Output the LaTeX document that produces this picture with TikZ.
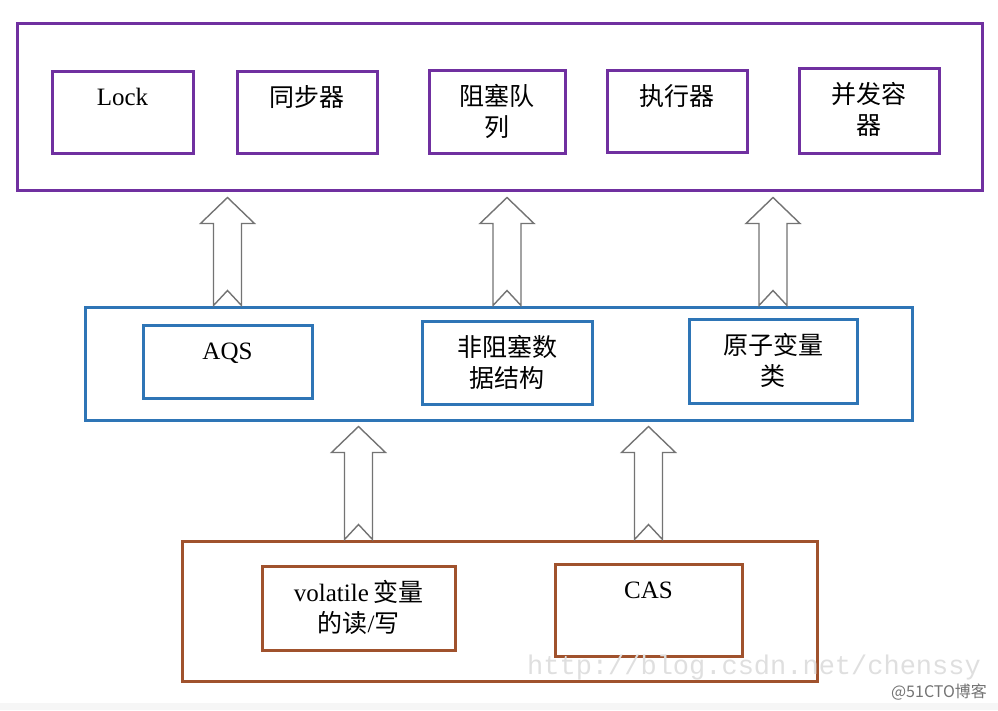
\documentclass[tikz,border=0pt]{standalone}
\usepackage{fontspec}
\setmainfont{Liberation Serif}
\newfontfamily\cjk{Noto Sans CJK SC}
\newfontfamily\wmfont{Liberation Mono}
\usetikzlibrary{positioning,calc}

\definecolor{boxpurple}{HTML}{7030A0}
\definecolor{boxblue}{HTML}{2E75B6}
\definecolor{boxbrown}{HTML}{A0522D}

\newcommand{\zh}[1]{{\cjk #1}}
\newcommand{\zhstrut}{\begingroup\cjk\vphantom{器}\endgroup}
% hollow arrow: from (x, bottom) up to tip
\newcommand{\fatarrow}[2]{%
  \draw[fatarr] let \p1=(#1), \p2=(#2) in
    (\x1-14pt,\y1) -- (\x1-14pt,\y2-26pt) -- (\x1-27pt,\y2-26pt) -- (\x1,\y2)
    -- (\x1+27pt,\y2-26pt) -- (\x1+14pt,\y2-26pt) -- (\x1+14pt,\y1)
    -- (\x1,\y1+15pt) -- cycle;}

\begin{document}
\begin{tikzpicture}[x=1pt,y=-1pt,
  pbox/.style={rectangle,draw=boxpurple,line width=3pt},
  bbox/.style={rectangle,draw=boxblue,line width=3pt},
  rbox/.style={rectangle,draw=boxbrown,line width=3pt},
  lbl/.style={anchor=north,inner sep=0pt,align=center,yshift=-15.5pt,
    font=\fontsize{25}{31}\selectfont,execute at begin node=\zhstrut},
  fatarr/.style={draw=gray!90!black,line width=1.4pt,fill=white,line join=miter}]
\useasboundingbox (0,0) rectangle (998,710);
\fill[gray!7] (0,703) rectangle (998,710);

% top layer
\node[pbox,minimum width=965pt,minimum height=167pt] (top) at (499.5,106.5) {};
\node[pbox,minimum width=141pt,minimum height=82pt] (lock) at (122.5,112) {};
\node[pbox,minimum width=140pt,minimum height=82pt] (sync) at (307,112) {};
\node[pbox,minimum width=136pt,minimum height=83pt] (queue) at (497,111.5) {};
\node[pbox,minimum width=140pt,minimum height=82pt] (exec) at (677,111) {};
\node[pbox,minimum width=140pt,minimum height=85pt] (cont) at (869,110.5) {};

\node[lbl] (lockt) at (lock.north) {Lock};
\node[lbl] (synct) at (sync.north) {\zh{同步器}};
\node[lbl] (queuet) at (queue.north) {\zh{阻塞队}\\\zh{列}};
\node[lbl] (exect) at (exec.north) {\zh{执行器}};
\node[lbl] (contt) at (cont.north) {\zh{并发容}\\\zh{器}};

% middle layer
\node[bbox,minimum width=827pt,minimum height=113pt] (mid) at (498.5,363.5) {};
\node[bbox,minimum width=169pt,minimum height=73pt] (aqs) at (227.5,361.5) {};
\node[bbox,minimum width=170pt,minimum height=83pt] (nbds) at (507,362.5) {};
\node[bbox,minimum width=168pt,minimum height=84pt] (atom) at (773,361) {};

\node[lbl] (aqst) at (aqs.north) {AQS};
\node[lbl] (nbdst) at (nbds.north) {\zh{非阻塞数}\\\zh{据结构}};
\node[lbl] (atomt) at (atom.north) {\zh{原子变量}\\\zh{类}};

% bottom layer
\node[rbox,minimum width=635pt,minimum height=140pt] (bot) at (499.5,611) {};
\node[rbox,minimum width=193pt,minimum height=84pt] (vol) at (358.5,608) {};
\node[rbox,minimum width=187pt,minimum height=92pt] (cas) at (648.5,610) {};

\node[lbl] (volt) at (vol.north) {volatile\,\zh{变量}\\\zh{的读}/\zh{写}};
\node[lbl] (cast) at (cas.north) {CAS};

% arrows
\fatarrow{aqs |- mid.north}{$(aqs |- top.south)+(0,6)$}
\fatarrow{nbds |- mid.north}{$(nbds |- top.south)+(0,6)$}
\fatarrow{atom |- mid.north}{$(atom |- top.south)+(0,6)$}
\fatarrow{vol |- bot.north}{$(vol |- mid.south)+(0,5)$}
\fatarrow{cas |- bot.north}{$(cas |- mid.south)+(0,5)$}

% watermark
\node[font=\wmfont\fontsize{27}{27}\selectfont,text=gray!25] (wm) at (754,668) {http://blog.csdn.net/chenssy};
\node[font=\cjk\fontsize{16}{16}\selectfont,text=gray!90!black] (logo) at (939,692) {@51CTO博客};
\end{tikzpicture}
\end{document}
